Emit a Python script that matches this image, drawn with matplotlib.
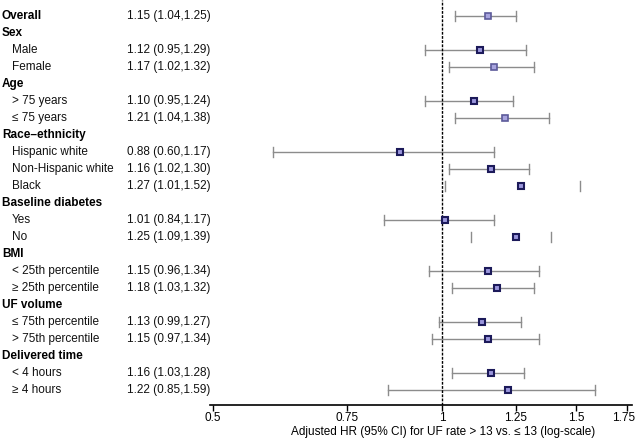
import matplotlib
matplotlib.use('Agg')
import numpy as np
import matplotlib.pyplot as plt
import matplotlib.transforms as mtransforms
from matplotlib import rcParams

rcParams.update({
    'font.family': ['Liberation Sans', 'DejaVu Sans'],
    'font.size': 8.5,
})

# rows of the forest plot, top to bottom (headers have no estimate)
labels = ["Overall", "Sex", "Male", "Female", "Age", "> 75 years", "\u2264 75 years",
          "Race\u2013ethnicity", "Hispanic white", "Non-Hispanic white", "Black",
          "Baseline diabetes", "Yes", "No", "BMI", "< 25th percentile", "\u2265 25th percentile",
          "UF volume", "\u2264 75th percentile", "> 75th percentile",
          "Delivered time", "< 4 hours", "\u2265 4 hours"]
is_header = [True, True, False, False, True, False, False, True, False, False, False,
             True, False, False, True, False, False, True, False, False, True, False, False]
hr = [1.15, None, 1.12, 1.17, None, 1.10, 1.21, None, 0.88, 1.16, 1.27,
      None, 1.01, 1.25, None, 1.15, 1.18, None, 1.13, 1.15, None, 1.16, 1.22]
lo = [1.04, None, 0.95, 1.02, None, 0.95, 1.04, None, 0.60, 1.02, 1.01,
      None, 0.84, 1.09, None, 0.96, 1.03, None, 0.99, 0.97, None, 1.03, 0.85]
hi = [1.25, None, 1.29, 1.32, None, 1.24, 1.38, None, 1.17, 1.30, 1.52,
      None, 1.17, 1.39, None, 1.34, 1.32, None, 1.27, 1.34, None, 1.28, 1.59]
# rows drawn with the lighter marker
light = ["Overall", "Female", "\u2264 75 years"]
# rows where only the caps show in the original
no_line = ["Black", "No"]

xticks = [0.5, 0.75, 1, 1.25, 1.5, 1.75]
xticklabels = ["0.5", "0.75", "1", "1.25", "1.5", "1.75"]

W, H = 637, 442
fig = plt.figure(figsize=(W / 100, H / 100), dpi=100)
ax = fig.add_axes([210 / W, (H - 405) / H, 422 / W, 405 / H])

n = len(labels)
ax.set_xscale('log')
ax.set_xlim(0.4955, 1.7765)
ax.set_ylim(n - 0.12, -0.94)

trans = mtransforms.blended_transform_factory(fig.transFigure, ax.transData)

for i in range(n):
    if is_header[i]:
        ax.text(2 / W, i, labels[i], transform=trans, fontweight='bold',
                va='center', ha='left')
        if hr[i] is None:
            continue
    else:
        ax.text(12 / W, i, labels[i], transform=trans, va='center', ha='left',
                color='#111111')
    ax.text(127 / W, i, "%.2f (%.2f,%.2f)" % (hr[i], lo[i], hi[i]), transform=trans,
            va='center', ha='left', color='#111111')

    if labels[i] not in no_line:
        ax.plot([lo[i], hi[i]], [i, i], color='#8c8c8c', lw=1.0, zorder=2)
    ax.plot([lo[i], lo[i]], [i - 0.27, i + 0.27], color='#8c8c8c', lw=1.0, zorder=2)
    ax.plot([hi[i], hi[i]], [i - 0.27, i + 0.27], color='#8c8c8c', lw=1.0, zorder=2)
    if labels[i] in light:
        ax.plot(hr[i], i, 's', ms=5, mfc='#a8a4de', mec='#5c5a9a', mew=1.2, zorder=4)
    else:
        ax.plot(hr[i], i, 's', ms=5, mfc='#9a96dc', mec='#1c1a5a', mew=1.5, zorder=4)

ax.axvline(1, color='black', ls=(0, (2, 1)), lw=1.0, zorder=3)

for s in ['top', 'right', 'left']:
    ax.spines[s].set_visible(False)
ax.spines['bottom'].set_linewidth(1.2)
ax.set_yticks([])
ax.set_xticks(xticks)
ax.set_xticklabels(xticklabels)
ax.xaxis.set_minor_locator(matplotlib.ticker.NullLocator())
ax.tick_params(axis='x', direction='out', length=4, width=1.0, labelsize=8.5, pad=1)
# keep the last tick label inside the figure
last = ax.get_xticklabels()[-1]
last.set_transform(last.get_transform() + mtransforms.ScaledTranslation(-3 / 100, 0, fig.dpi_scale_trans))

ax.set_xlabel("Adjusted HR (95% CI) for UF rate > 13 vs. \u2264 13 (log-scale)", fontsize=8.5)
ax.xaxis.set_label_coords((443 - 210) / 422, -0.052)

fig.savefig('out.png', dpi=100)
